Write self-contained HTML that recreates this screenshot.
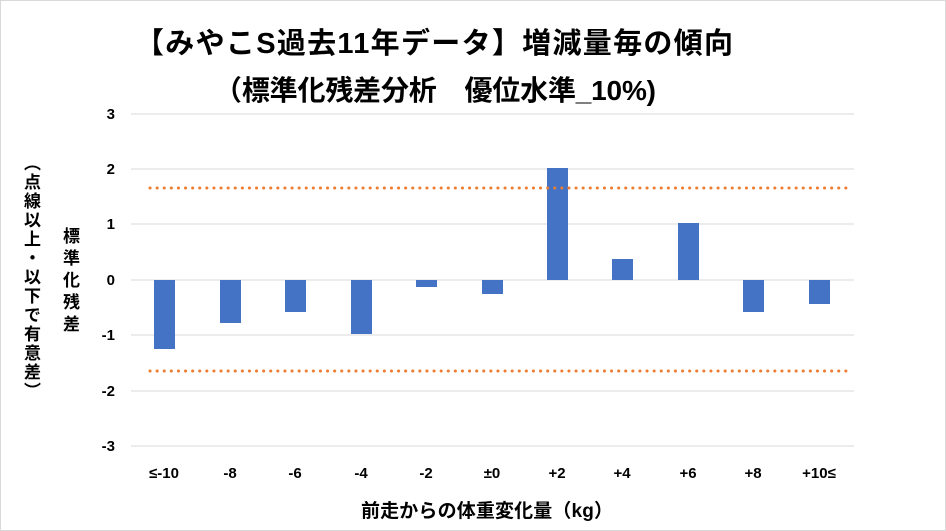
<!DOCTYPE html>
<html><head><meta charset="utf-8"><style>
body{margin:0;background:#fff}
#c{position:relative;width:944px;height:529px;border:1px solid #d9d9d9;overflow:hidden;font-family:"Liberation Sans","Noto Sans CJK JP",sans-serif}
.v{position:absolute;writing-mode:vertical-rl;font-weight:bold;font-size:17px;color:#000;line-height:1}
</style></head><body><div id="c">
<svg width="944" height="529" style="position:absolute;left:0;top:0" font-family="Liberation Sans, Noto Sans CJK JP, sans-serif">
<text x="433" y="52" text-anchor="middle" font-size="29" font-weight="bold" textLength="598">【みやこS過去11年データ】増減量毎の傾向</text>
<text x="434" y="99" text-anchor="middle" font-size="28" font-weight="bold" textLength="442">（標準化残差分析　優位水準_10%)</text>
<g stroke="#d9d9d9" stroke-width="1">
<line x1="130" x2="853" y1="113" y2="113"/><line x1="130" x2="853" y1="168" y2="168"/><line x1="130" x2="853" y1="223" y2="223"/><line x1="130" x2="853" y1="279" y2="279"/><line x1="130" x2="853" y1="334" y2="334"/><line x1="130" x2="853" y1="390" y2="390"/><line x1="130" x2="853" y1="445" y2="445"/>
</g>
<g font-size="15" font-weight="bold" text-anchor="end">
<text x="114" y="118">3</text><text x="114" y="173">2</text><text x="114" y="228">1</text><text x="114" y="284">0</text><text x="114" y="339">-1</text><text x="114" y="395">-2</text><text x="114" y="450">-3</text>
</g>
<g fill="#4472c4">
<rect x="153" y="279" width="21" height="69"/>
<rect x="219" y="279" width="21" height="43"/>
<rect x="284" y="279" width="21" height="32"/>
<rect x="350" y="279" width="21" height="54"/>
<rect x="415" y="279" width="21" height="7"/>
<rect x="481" y="279" width="21" height="14"/>
<rect x="546" y="167" width="21" height="112"/>
<rect x="611" y="258" width="21" height="21"/>
<rect x="677" y="222" width="21" height="57"/>
<rect x="742" y="279" width="21" height="32"/>
<rect x="808" y="279" width="21" height="24"/>
</g>
<g stroke="#ed7d31" stroke-width="3" stroke-dasharray="0.1 7" stroke-linecap="round">
<line x1="149" x2="845" y1="187" y2="187"/><line x1="149" x2="845" y1="370" y2="370"/>
</g>
<g font-size="15" font-weight="bold" text-anchor="middle">
<text x="163" y="477">≤-10</text><text x="229" y="477">-8</text><text x="294" y="477">-6</text><text x="360" y="477">-4</text><text x="425" y="477">-2</text><text x="491" y="477">±0</text><text x="556" y="477">+2</text><text x="621" y="477">+4</text><text x="687" y="477">+6</text><text x="752" y="477">+8</text><text x="818" y="477">+10≤</text>
</g>
<text x="486" y="516" text-anchor="middle" font-size="19" font-weight="bold" textLength="252">前走からの体重変化量（kg）</text>
</svg>
<div class="v" style="left:60px;top:226px;letter-spacing:5px">標準化残差</div>
<div class="v" style="left:21px;top:153px;letter-spacing:2px">（点線以上・以下で有意差）</div>
</div></body></html>
